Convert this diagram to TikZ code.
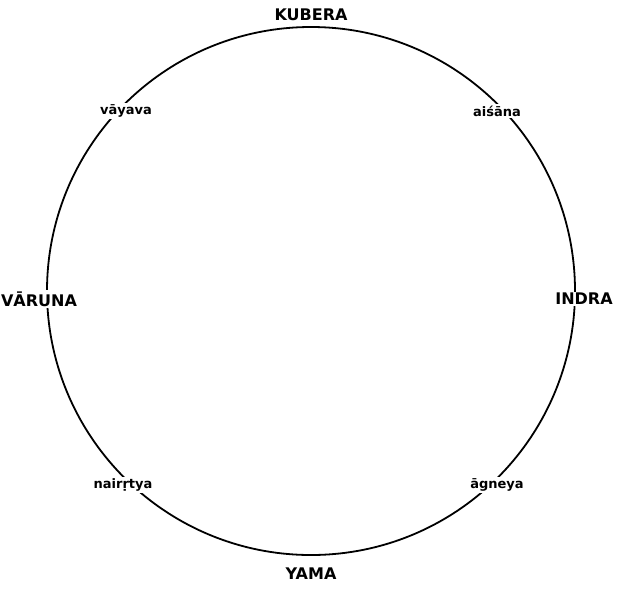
\documentclass[tikz,border=0pt]{standalone}
\usepackage{fontspec}
\setmainfont{DejaVu Sans}
\begin{document}
\begin{tikzpicture}[x=1pt,y=-1pt,
  lab/.style={fill=white,inner sep=1.5pt,font=\bfseries\fontsize{13}{13}\selectfont},
  biglab/.style={fill=white,inner sep=1.5pt,font=\bfseries\fontsize{16}{16}\selectfont}]
\useasboundingbox (0,0) rectangle (617,590);
\coordinate (c) at (311,291);
\draw[line width=1.8pt] (c) circle[radius=264];
\node[biglab] (kubera) at (311,15) {KUBERA};
\node[biglab] (yama) at (311,574) {YAMA};
\node[biglab] (varuna) at (39,299) {VĀRUNA};
\node[biglab] (indra) at (584,299) {INDRA};
\node[lab] (vayava) at (126,111) {vāyava};
\node[lab] (aisana) at (497,111) {aiśāna};
\node[lab] (nairrtya) at (123,485) {nairṛtya};
\node[lab] (agneya) at (497,485) {āgneya};
\end{tikzpicture}
\end{document}
